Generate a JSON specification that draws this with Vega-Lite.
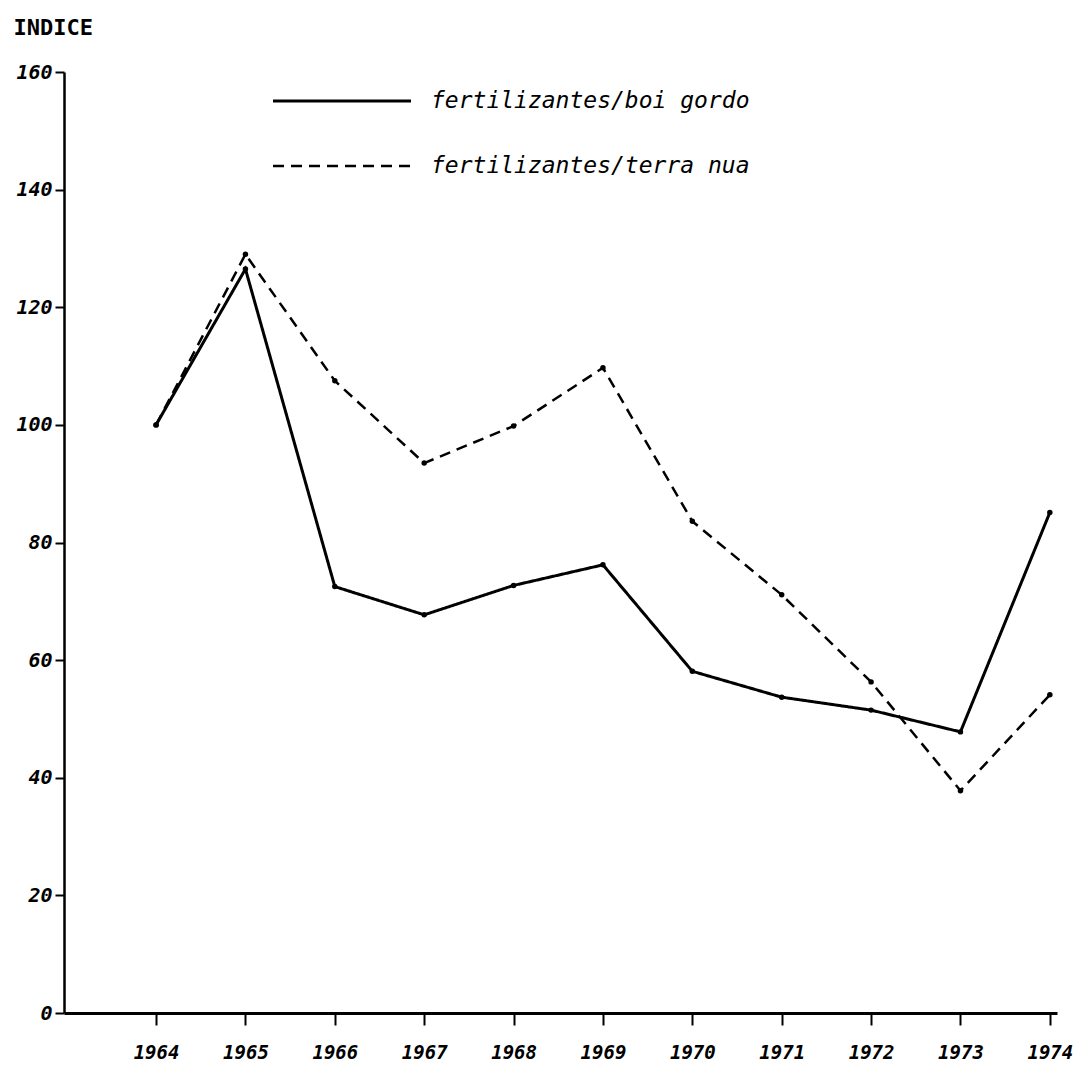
{
  "$schema": "https://vega.github.io/schema/vega-lite/v6.json",
  "width": 993,
  "height": 941,
  "autosize": {"type": "none"},
  "padding": {"left": 64, "top": 72, "right": 19, "bottom": 54},
  "background": "white",
  "config": {
    "view": {"stroke": null},
    "axis": {"grid": false, "domainColor": "black", "tickColor": "black", "labelColor": "black", "titleColor": "black"}
  },
  "data": {
    "values": [
      {"year": 1964, "series": "fertilizantes/boi gordo", "value": 100},
      {"year": 1965, "series": "fertilizantes/boi gordo", "value": 126.5},
      {"year": 1966, "series": "fertilizantes/boi gordo", "value": 72.5},
      {"year": 1967, "series": "fertilizantes/boi gordo", "value": 67.7},
      {"year": 1968, "series": "fertilizantes/boi gordo", "value": 72.7},
      {"year": 1969, "series": "fertilizantes/boi gordo", "value": 76.2},
      {"year": 1970, "series": "fertilizantes/boi gordo", "value": 58.1},
      {"year": 1971, "series": "fertilizantes/boi gordo", "value": 53.7},
      {"year": 1972, "series": "fertilizantes/boi gordo", "value": 51.5},
      {"year": 1973, "series": "fertilizantes/boi gordo", "value": 47.8},
      {"year": 1974, "series": "fertilizantes/boi gordo", "value": 85.1},
      {"year": 1964, "series": "fertilizantes/terra nua", "value": 100},
      {"year": 1965, "series": "fertilizantes/terra nua", "value": 129.0},
      {"year": 1966, "series": "fertilizantes/terra nua", "value": 107.5},
      {"year": 1967, "series": "fertilizantes/terra nua", "value": 93.5},
      {"year": 1968, "series": "fertilizantes/terra nua", "value": 99.8},
      {"year": 1969, "series": "fertilizantes/terra nua", "value": 109.7},
      {"year": 1970, "series": "fertilizantes/terra nua", "value": 83.6},
      {"year": 1971, "series": "fertilizantes/terra nua", "value": 71.1},
      {"year": 1972, "series": "fertilizantes/terra nua", "value": 56.3},
      {"year": 1973, "series": "fertilizantes/terra nua", "value": 37.8},
      {"year": 1974, "series": "fertilizantes/terra nua", "value": 54.1}
    ]
  },
  "encoding": {
    "x": {
      "field": "year", "type": "quantitative",
      "scale": {"domain": [1962.97, 1974.08], "nice": false, "zero": false},
      "axis": {
        "values": [1964, 1965, 1966, 1967, 1968, 1969, 1970, 1971, 1972, 1973, 1974],
        "format": "d", "title": null, "domainWidth": 3, "tickSize": 12, "tickWidth": 2,
        "labelFont": "DejaVu Sans Mono", "labelFontStyle": "italic", "labelFontWeight": "bold",
        "labelFontSize": 19, "labelPadding": 18, "labelFlush": false, "labelOverlap": false
      }
    },
    "y": {
      "field": "value", "type": "quantitative",
      "scale": {"domain": [0, 160], "nice": false},
      "axis": {
        "values": [0, 20, 40, 60, 80, 100, 120, 140, 160],
        "title": "INDICE", "titleAngle": 0, "titleAlign": "left", "titleBaseline": "middle",
        "titleX": -51, "titleY": -45, "titleFont": "DejaVu Sans Mono", "titleFontWeight": "bold", "titleFontSize": 22,
        "domainWidth": 2.5, "tickSize": 9, "tickWidth": 2, "labelPadding": 3,
        "labelFont": "DejaVu Sans Mono", "labelFontStyle": "italic", "labelFontWeight": "bold",
        "labelFontSize": 20, "labelFlush": false, "labelOverlap": false
      }
    }
  },
  "layer": [
    {
      "mark": {"type": "line", "color": "black"},
      "encoding": {
        "strokeDash": {
          "field": "series", "type": "nominal",
          "scale": {"domain": ["fertilizantes/boi gordo", "fertilizantes/terra nua"], "range": [[1, 0], [11, 7]]},
          "legend": {
            "orient": "none", "legendX": 265, "legendY": 16, "title": null,
            "symbolType": "M-6,0H6", "symbolSize": 529, "symbolStrokeWidth": 3, "symbolStrokeColor": "black",
            "labelFont": "DejaVu Sans Mono", "labelFontStyle": "italic", "labelFontSize": 23, "labelColor": "black",
            "labelOffset": 76, "labelLimit": 500, "rowPadding": 40
          }
        },
        "strokeWidth": {
          "field": "series", "type": "nominal",
          "scale": {"domain": ["fertilizantes/boi gordo", "fertilizantes/terra nua"], "range": [3, 2.5]},
          "legend": null
        }
      }
    },
    {
      "mark": {"type": "point", "filled": true, "color": "black", "size": 30, "opacity": 1},
      "encoding": {}
    }
  ]
}
